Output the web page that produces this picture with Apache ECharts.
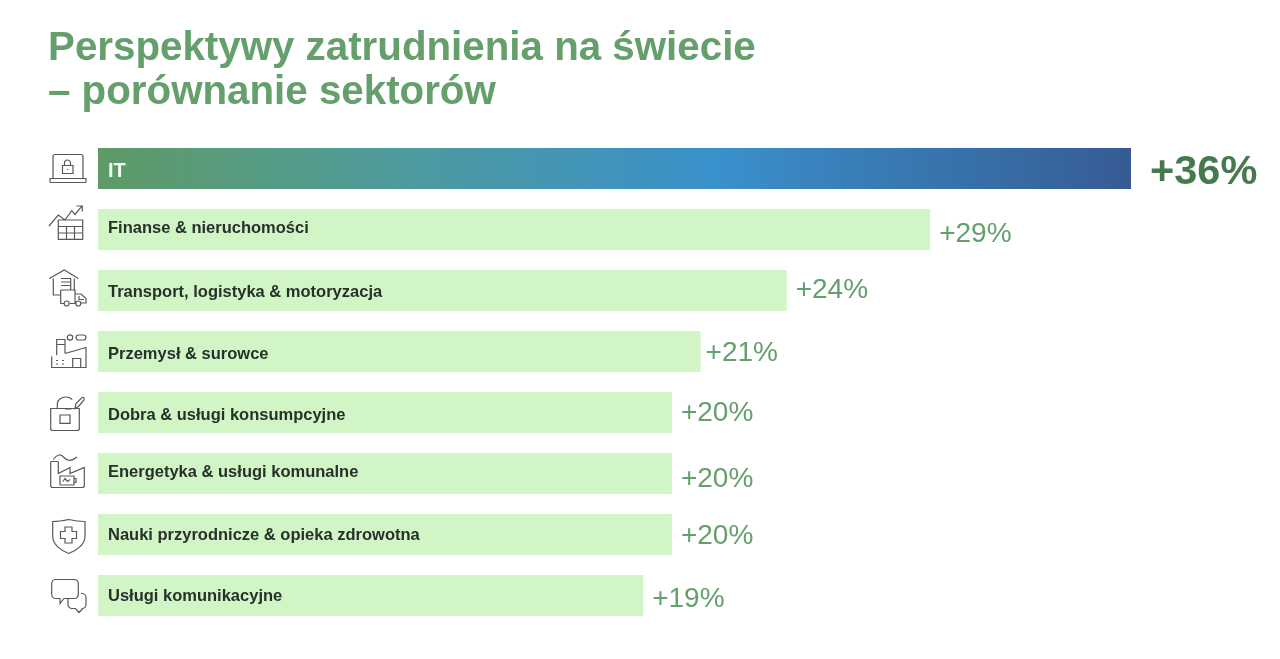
<!DOCTYPE html>
<html><head><meta charset="utf-8">
<style>html,body{margin:0;padding:0;background:#fff}#c{width:1280px;height:659px}</style>
<script src="https://cdn.jsdelivr.net/npm/echarts@6/dist/echarts.min.js"></script>
</head><body><div id="c"></div>
<script>
const categories = ['IT','Finanse & nieruchomości','Transport, logistyka & motoryzacja','Przemysł & surowce','Dobra & usługi konsumpcyjne','Energetyka & usługi komunalne','Nauki przyrodnicze & opieka zdrowotna','Usługi komunikacyjne'];
const growth = [36,29,24,21,20,20,20,19];
const nameNudge = [3,-1,2,3,3,-1,1,1];
const valueNudge = [4,5,0,2,1,6,2,4];
const valueNudgeX = [0,0,0,-4,0,0,0,0];
const icons = [
 'M-15,10V-12a2,2 0 0 1 2-2H13a2 2 0 0 1 2 2V10M-18,10H18V13a1,1 0 0 1-1,1H-17a1,1 0 0 1-1-1ZM-5.5,-3H5V5H-5.5ZM-3.5,-3V-5.5a3,3 0 0 1 6,0V-3M-0.5,0.5V1.5',
 'M-19,-3.5L-9.7,-14.5L-3,-9.5L3.7,-18.8L7,-15L14.3,-23.8M8.5,-23.5H14.3V-18M-9.7,-9.5H14.7V9.8H-9.7ZM-9.7,-3H14.7M-9.7,3.5H14.7M-1.5,-3V9.8M6.5,-3V9.8',
 'M-18.7,-12L-3.7,-20.5L10.3,-12M-14.7,-12V4.5H-7.3M6.3,-12V-0.5M-7,-12H2.7V-0.5M-7,-8.5H2.7M-7,-5H2.7M-7.3,-0.5H7V13H5M-7.3,-0.5V13H-4M2,13H7.5M7,3.5H13L18,8V12.5H13M11,5.5V9H16M-3.8,13a2.5,2.5 0 1 0 5,0a2.5,2.5 0 1 0-5,0M7.8,13a2.5,2.5 0 1 0 5,0a2.5,2.5 0 1 0-5,0',
 'M-16.3,5V16H18V-4L-3,2M-11.3,3.8V-12H-3V1.8M-11.3,-7H-3M4.7,16V7H12.7V16M-0.7,-14a2.7,2.7 0 1 0 5.4,0a2.7,2.7 0 1 0-5.4,0M8,-14a2.5,2.5 0 0 1 2.5,-2.5H15.5a2.5,2.5 0 0 1 0,5H10.5a2.5,2.5 0 0 1-2.5,-2.5M-12,9H-10M-6,9H-4M-12,12.5H-10M-6,12.5H-4',
 'M-17.3,-4H11.3V16a2,2 0 0 1-2,2H-15.3a2,2 0 0 1-2-2ZM-10.7,-4V-9a8.5,7 0 0 1 15,-4M-8,2.5H2V10.8H-8ZM-3,-3.5H3.5M7,-4L8,-9L14,-15Q17,-16 16,-12.5L10.5,-6Z',
 'M-17.3,-12V12a2,2 0 0 0 2,2H14.3a2,2 0 0 0 2-2V-6L2,0V-6L-9.7,0V-12M-17.3,-12H-9.7M-14.7,-14Q-9,-22 -4,-16T9,-16.5M-8,2.5H6V11.5H-8ZM6,5H8V9H6M-5,8L-3,5L-0.5,8L2,6',
 'M0.7,-15C-4,-14 -9,-13 -15.3,-13V2C-15.3,10 -7,16 0.7,19C8.5,16 17,10 17,2V-13C11,-13 5,-14 0.7,-15ZM-3,-7.5H4V-3H8.5V4H4V8.5H-3V4H-7.5V-3H-3Z',
 'M-12.3,-16H6.3a4,4 0 0 1 4,4V-1a4,4 0 0 1-4,4H-4L-8,8L-8,3H-12.3a4,4 0 0 1-4,-4V-12a4,4 0 0 1 4,-4ZM13,-2H14a4,4 0 0 1 4,4V9a4,4 0 0 1-4,4V14L11,17L7.5,13H4a4,4 0 0 1-4,-4V3'
];
const iconBox = 'M-24,-24L-24,-24M24,24L24,24';

const chart = echarts.init(document.getElementById('c'), null, {renderer:'canvas'});
const itGradient = new echarts.graphic.LinearGradient(0,0,1,0,[
  {offset:0,color:'#5f9a66'},{offset:0.3,color:'#4d9a9e'},{offset:0.6,color:'#3a90cb'},{offset:1,color:'#365b94'}
]);
chart.setOption({
  animation:false,
  backgroundColor:'#ffffff',
  title:{text:'Perspektywy zatrudnienia na świecie\n– porównanie sektorów',left:43,top:22,
    textStyle:{fontFamily:'Liberation Sans',fontSize:40.3,fontWeight:'bold',color:'#649f6c',lineHeight:44}},
  grid:{left:98,top:138,width:1033,height:488},
  xAxis:{type:'value',min:0,max:36,show:false},
  yAxis:{type:'category',inverse:true,data:categories,show:false},
  series:[
   {type:'bar',barWidth:41,barGap:'-100%',
    data:growth.map((v,i)=>({value:v,
      itemStyle:{color:i===0?itGradient:'#d2f5c6'},
      label:i===0
        ?{fontSize:41.5,fontWeight:'bold',color:'#467a4d',distance:19,offset:[0,valueNudge[i]]}
        :{offset:[valueNudgeX[i],valueNudge[i]]}})),
    label:{show:true,position:'right',distance:9,formatter:p=>'+'+p.value+'%',
      fontFamily:'Liberation Sans',fontSize:28,color:'#649f6c'}},
   {type:'bar',barWidth:41,barGap:'-100%',silent:true,
    data:growth.map((v,i)=>({value:v,
      label:i===0
        ?{fontSize:20,color:'#f4fbf2',offset:[0,nameNudge[i]]}
        :{offset:[0,nameNudge[i]]}})),
    itemStyle:{color:'rgba(0,0,0,0)'},
    label:{show:true,position:'insideLeft',distance:10,formatter:p=>categories[p.dataIndex],
      fontFamily:'Liberation Sans',fontSize:16.5,fontWeight:'bold',color:'#27312b'}},
   {type:'custom',clip:false,silent:true,
    data:icons.map((d,i)=>[0,i]),
    encode:{x:0,y:1},
    renderItem:(params,api)=>{
      const p=api.coord([0,api.value(1)]);
      return {type:'path',x:p[0]-30,y:p[1],
        shape:{pathData:iconBox+icons[params.dataIndex],x:-24,y:-24,width:48,height:48,layout:'center'},
        style:{fill:'none',stroke:'#555a58',lineWidth:1.2}};
    }}
  ]
});
</script></body></html>
